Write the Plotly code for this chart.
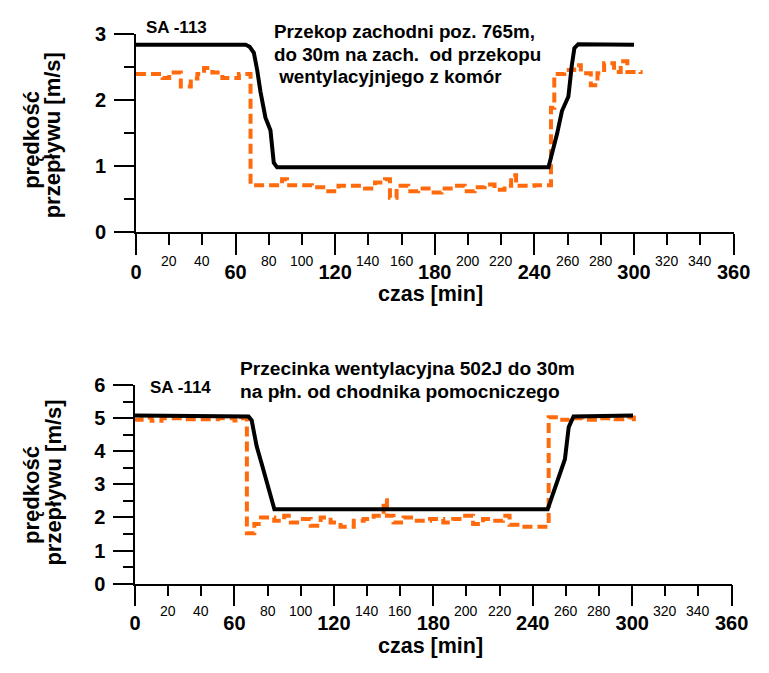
import plotly.graph_objects as go

W, H = 769, 673
FONT = "Liberation Sans, Arial, sans-serif"
ORANGE = "#FF6A0D"

# ---------------- data: SA-113 ----------------
top_black_x = [0, 66, 68.5, 71, 73, 75, 78, 81, 83, 85, 248.5, 250.8, 253.7, 256.6, 260.5, 262.5, 264.1, 266.4, 300]
top_black_y = [2.83, 2.83, 2.80, 2.71, 2.45, 2.12, 1.73, 1.54, 1.05, 0.98, 0.98, 1.20, 1.49, 1.83, 2.05, 2.51, 2.78, 2.84, 2.83]

top_orange_x = [0, 16, 20, 27, 33, 37, 41, 46, 52, 62, 69, 88, 91, 106, 114, 122, 138, 144, 150, 153, 157,
                164, 170, 178, 184, 192, 198, 204, 210, 216, 222, 226, 229, 240, 250, 252, 258, 264, 268,
                274, 278, 282, 288, 292, 296, 304]
top_orange_y = [2.39, 2.33, 2.41, 2.20, 2.32, 2.39, 2.48, 2.41, 2.33, 2.39, 0.71, 0.80, 0.71, 0.68, 0.62, 0.70,
                0.66, 0.75, 0.80, 0.52, 0.70, 0.62, 0.66, 0.60, 0.66, 0.70, 0.62, 0.68, 0.72, 0.64, 0.70,
                0.86, 0.70, 0.71, 1.88, 2.39, 2.45, 2.52, 2.40, 2.22, 2.40, 2.55, 2.42, 2.58, 2.42, 2.39]

# ---------------- data: SA-114 ----------------
bot_black_x = [0, 66, 68.5, 70.4, 73.4, 76, 78.3, 81.2, 84.1, 249, 252, 256.8, 259.4, 261.7, 264.6, 300.5]
bot_black_y = [5.08, 5.08, 5.05, 4.93, 4.15, 3.70, 3.27, 2.83, 2.25, 2.25, 2.69, 3.47, 3.76, 4.73, 5.05, 5.08]

bot_orange_x = [0, 4, 10, 16, 30, 50, 60, 64, 67.5, 72, 76, 84, 90, 94, 100, 106, 112, 118, 124, 132, 138,
                144, 150, 152, 156, 162, 170, 178, 186, 192, 198, 204, 210, 216, 222, 226, 232, 249.6, 256,
                262, 270, 280, 290, 298, 301]
bot_orange_y = [4.95, 5.02, 4.92, 5.00, 4.97, 5.00, 4.93, 5.00, 1.52, 1.80, 2.00, 1.90, 2.05, 1.85, 1.95,
                1.75, 2.00, 1.85, 1.72, 1.90, 1.95, 2.05, 2.52, 2.05, 1.85, 2.00, 1.90, 1.95, 1.85, 1.95,
                2.05, 1.80, 1.95, 1.90, 2.05, 1.78, 1.72, 5.03, 4.95, 5.00, 4.95, 5.00, 4.97, 5.02, 4.90]

major_x = [0, 60, 120, 180, 240, 300, 360]
minor_x_labels = [20, 40, 80, 100, 140, 160, 200, 220, 260, 280, 320, 340]

top_title_lines = ["Przekop zachodni poz. 765m,", "do 30m na zach.  od przekopu", " wentylacyjnjego z komór"]
bot_title_lines = ["Przecinka wentylacyjna 502J do 30m", "na płn. od chodnika pomocniczego"]
y_title_lines = ["prędkość", "przepływu [m/s]"]
x_title = "czas [min]"

fig = go.Figure()
fig.add_trace(go.Scatter(x=top_orange_x, y=top_orange_y, mode="lines", line_shape="hv",
                         line=dict(color=ORANGE, width=4, dash="10px,5px"), xaxis="x", yaxis="y"))
fig.add_trace(go.Scatter(x=top_black_x, y=top_black_y, mode="lines",
                         line=dict(color="black", width=4), xaxis="x", yaxis="y"))
fig.add_trace(go.Scatter(x=bot_orange_x, y=bot_orange_y, mode="lines", line_shape="hv",
                         line=dict(color=ORANGE, width=4, dash="10px,5px"), xaxis="x2", yaxis="y2"))
fig.add_trace(go.Scatter(x=bot_black_x, y=bot_black_y, mode="lines",
                         line=dict(color="black", width=4), xaxis="x2", yaxis="y2"))

def px_y(p):
    return 1 - p / H

def px_x(p):
    return p / W

xcommon = dict(range=[0, 360], tickvals=major_x, ticks="outside", ticklen=21, tickwidth=2,
               tickcolor="black", showline=True, linecolor="black", linewidth=1.5,
               showgrid=False, zeroline=False,
               tickfont=dict(family=FONT, size=20, color="black", weight="bold"),
               minor=dict(dtick=20, tick0=0, ticks="outside", ticklen=11, tickwidth=1.5, tickcolor="black"))
ycommon = dict(ticks="outside", ticklen=20, tickwidth=1.5, tickcolor="black", dtick=1,
               showline=True, linecolor="black", linewidth=1.5, showgrid=False, zeroline=False,
               ticklabelstandoff=4,
               tickfont=dict(family=FONT, size=20, color="black", weight="bold"),
               minor=dict(dtick=0.5, ticks="outside", ticklen=10, tickwidth=1.5, tickcolor="black"))

fig.update_layout(
    width=W, height=H, margin=dict(l=0, r=0, t=0, b=0),
    paper_bgcolor="white", plot_bgcolor="white", showlegend=False,
    xaxis=dict(domain=[px_x(134), px_x(750)], anchor="y", **xcommon),
    yaxis=dict(domain=[px_y(228.7), px_y(23.3)], range=[0, 3], anchor="x", **ycommon),
    xaxis2=dict(domain=[px_x(133), px_x(748)], anchor="y2", **xcommon),
    yaxis2=dict(domain=[px_y(592), px_y(386.7)], range=[0, 6], anchor="x2", **ycommon),
)

def bold(size):
    return dict(family=FONT, size=size, color="black", weight="bold")

ann = []
for xa, ypx in (("x", 258), ("x2", 620)):
    for v in minor_x_labels:
        ann.append(dict(x=v, xref=xa, y=px_y(ypx), yref="paper", text=str(v), showarrow=False,
                        xanchor="center", yanchor="middle", font=dict(family=FONT, size=14, color="black")))
# axis titles
for ypx in (293, 656):
    ann.append(dict(x=px_x(438), y=px_y(ypx), xref="paper", yref="paper", text=x_title, showarrow=False,
                    xanchor="center", yanchor="middle", font=bold(21.5)))
for yc1, yc2 in ((133, 129), (500, 488)):
    for xc, yc, t in ((26, yc1, y_title_lines[0]), (48, yc2, y_title_lines[1])):
        ann.append(dict(x=px_x(xc), y=px_y(yc), xref="paper", yref="paper", text=t, showarrow=False,
                        textangle=-90, xanchor="center", yanchor="middle", font=bold(22)))
# labels
ann.append(dict(x=px_x(142), y=px_y(17), xref="paper", yref="paper", text="SA -113", showarrow=False,
                xanchor="left", yanchor="middle", font=bold(17)))
ann.append(dict(x=px_x(146), y=px_y(389), xref="paper", yref="paper", text="SA -114", showarrow=False,
                xanchor="left", yanchor="middle", font=bold(17)))
for t, yc in zip(top_title_lines, (21, 45, 68)):
    ann.append(dict(x=px_x(274), y=px_y(yc), xref="paper", yref="paper", text=t, showarrow=False,
                    xanchor="left", yanchor="middle", align="left", font=bold(18.8)))
for t, yc in zip(bot_title_lines, (370, 393)):
    ann.append(dict(x=px_x(239), y=px_y(yc), xref="paper", yref="paper", text=t, showarrow=False,
                    xanchor="left", yanchor="middle", align="left", font=bold(19.2)))
fig.update_layout(annotations=ann)

fig.write_html("out.html")
